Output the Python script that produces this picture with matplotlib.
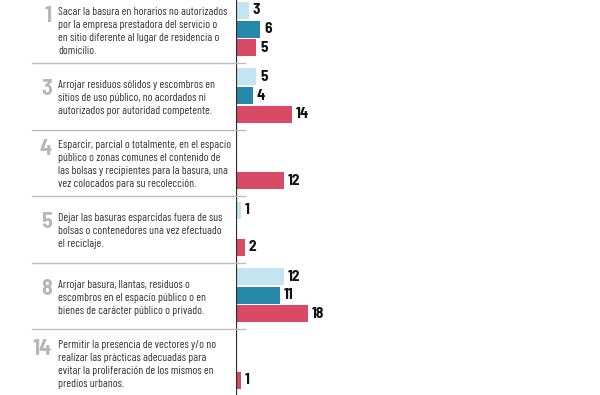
import matplotlib
matplotlib.use("Agg")
import matplotlib.pyplot as plt
from matplotlib.transforms import blended_transform_factory

plt.rcParams['font.family'] = ['Barlow Condensed', 'Archivo Narrow', 'DejaVu Sans']

# articulos del codigo y su descripcion
articles = ['1', '3', '4', '5', '8', '14']
descriptions = [
    "Sacar la basura en horarios no autorizados\npor la empresa prestadora del servicio o\nen sitio diferente al lugar de residencia o\ndomicilio.",
    "Arrojar residuos sólidos y escombros en\nsitios de uso público, no acordados ni\nautorizados por autoridad competente.",
    "Esparcir, parcial o totalmente, en el espacio\npúblico o zonas comunes el contenido de\nlas bolsas y recipientes para la basura, una\nvez colocados para su recolección.",
    "Dejar las basuras esparcidas fuera de sus\nbolsas o contenedores una vez efectuado\nel reciclaje.",
    "Arrojar basura, llantas, residuos o\nescombros en el espacio público o en\nbienes de carácter público o privado.",
    "Permitir la presencia de vectores y/o no\nrealizar las prácticas adecuadas para\nevitar la proliferación de los mismos en\npredios urbanos.",
]
# tres series (None = sin barra)
serie_a = [3, 5, None, 1, 12, None]
serie_b = [6, 4, None, None, 11, None]
serie_c = [5, 14, 12, 2, 18, 1]

colors = ['#c2e4f3', '#2588a8', '#d94a66']
offsets = [-0.29, -0.01, 0.27]
semi = ['Barlow Semi Condensed', 'Barlow Condensed']

fig = plt.figure(figsize=(6, 3.95), dpi=100)
ax = fig.add_axes([236/600, 0, 364/600, 1])
ax.set_xlim(0, 364/3.94)
ax.set_ylim(5.49, -0.447)
ax.axis('off')

for serie, col, off in zip([serie_a, serie_b, serie_c], colors, offsets):
    for i, v in enumerate(serie):
        if v is None:
            continue
        ax.barh(i + off, v, height=0.255, color=col, left=0.2)
        ax.text(v + 0.2 + 1.0, i + off, str(v), va='center', ha='left', family=semi,
                fontsize=11, fontweight='bold', color='#111111')

ax.axvline(0, color='#2a2a2a', lw=1.6)

tr = blended_transform_factory(fig.transFigure, ax.transData)
line_h = 13.1/66.5
for i, (art, desc) in enumerate(zip(articles, descriptions)):
    n = desc.count('\n') + 1
    yc = i + 0.03
    ax.text(58/600, yc, desc, transform=tr, va='center', ha='left',
            fontsize=8.3, color='#333333', linespacing=1.39, clip_on=False)
    first = yc - (n - 1)*line_h/2
    ax.text(52/600, first + 0.06, art, transform=tr, va='center', ha='right', family=semi,
            fontsize=16, fontweight='bold', color='#b8b8b8', clip_on=False)
    if i < len(articles) - 1:
        ax.plot([32/600, 245/600], [i + 0.5, i + 0.5], transform=tr,
                color='#bdbdbd', lw=1, clip_on=False)

fig.savefig('out.png', dpi=100)
